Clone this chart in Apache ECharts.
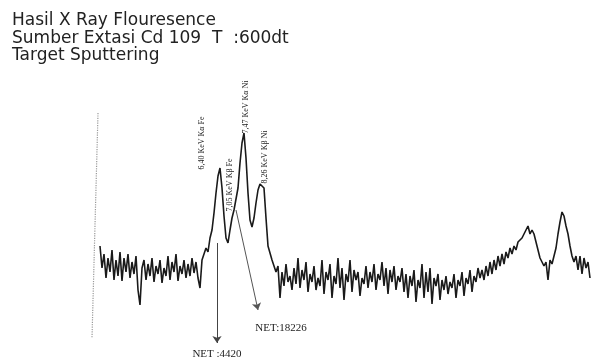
<!DOCTYPE html>
<html>
<head>
<meta charset="utf-8">
<script src="https://cdn.jsdelivr.net/npm/echarts@6/dist/echarts.min.js"></script>
<style>html,body{margin:0;padding:0;background:#fff}#c{width:592px;height:363px}</style>
</head>
<body>
<div id="c"></div>
<script>
// Spectrum: counts per channel (channel spacing 2)
const channelStart = 10;
const channelStep = 2;
const counts = [
  92,70,84,60,80,66,88,58,78,62,
  86,57,80,66,84,60,76,64,82,48,
  33,70,78,58,74,62,80,56,72,64,
  78,55,70,62,82,58,76,66,84,57,
  72,64,78,60,74,62,80,65,76,60,
  50,78,84,90,86,100,
  108,125,145,162,170,150,122,100,95,108,
  120,128,126,150,175,195,205,180,145,118,
  111,120,135,148,154,156,150,120,92,85,
  78,80,66,
  72,40,66,52,74,56,62,48,70,54,
  80,50,68,58,76,46,64,56,72,48,
  60,52,78,44,66,58,74,40,62,54,
  80,50,70,38,64,56,78,46,68,58,
  66,42,60,54,72,50,66,56,74,48,
  64,58,76,52,70,44,68,56,72,48,
  62,56,70,46,64,40,62,52,68,36,
  58,50,74,40,66,46,70,34,60,52,
  64,38,58,48,62,44,56,50,64,40,
  58,52,66,42,60,54,68,46,62,56,
  70,60,
  68,58,72,62,76,64,78,68,82,72,
  84,74,86,80,90,84,92,88,96,94,
  100,104,108,112,104,108,104,96,88,80,
  78,72,76,58,78,74,82,90,104,116,
  126,122,112,104,92,82,76,82,68,82,
  64,80,70,76,60
];
const channels = counts.map((_, i) => channelStart + channelStep * i);

// Peak annotations: [channel, counts, text]
const peakLabels = [
  [112, 195, '6,40 KeV Kα Fe'],
  [140, 153, '7,05 KeV Kβ Fe'],
  [156, 231, '7,47 KeV Kα Ni'],
  [175, 181, '8,26 KeV Kβ Ni']
];
const netLabels = ['NET :4420', 'NET:18226'];

const chart = echarts.init(document.getElementById('c'), null, {renderer: 'canvas'});
const serif = '"Liberation Serif", "DejaVu Serif", serif';

chart.setOption({
  animation: false,
  backgroundColor: '#ffffff',
  title: {
    text: 'Hasil X Ray Flouresence\nSumber Extasi Cd 109  T  :600dt\nTarget Sputtering',
    left: 7, top: 7,
    textStyle: {fontFamily: '"DejaVu Sans", sans-serif', fontSize: 17, fontWeight: 'normal', color: '#222', lineHeight: 17.5}
  },
  grid: {left: 90, right: 2, top: 60, bottom: 0},
  xAxis: {type: 'value', min: 0, max: 500, show: false},
  yAxis: {type: 'value', min: -25, max: 278, show: false},
  series: [{
    type: 'line',
    data: channels.map((c, i) => [c, counts[i]]),
    symbol: 'none',
    lineStyle: {color: '#1a1a1a', width: 1.6},
    markLine: {
      silent: true,
      symbol: ['none', 'none'],
      animation: false,
      data: [
        [{coord: [8, 225], lineStyle: {type: 'dotted', color: '#999', width: 1.2}, label: {show: false}},
         {coord: [2, 0]}],
        [{coord: [127, 95], symbol: 'none', lineStyle: {color: '#444', width: 1, type: 'solid'},
          label: {show: true, position: 'end', formatter: netLabels[0], fontFamily: serif, fontSize: 11, color: '#222', distance: 6}},
         {coord: [127, -5], symbol: 'arrow', symbolSize: 7}],
        [{coord: [146, 128], symbol: 'none', lineStyle: {color: '#555', width: 1, type: 'solid'}, label: {show: false}},
         {coord: [168, 28], symbol: 'arrow', symbolSize: 7}]
      ]
    },
    markPoint: {
      silent: true,
      animation: false,
      symbol: 'circle',
      symbolSize: 1,
      itemStyle: {color: 'rgba(0,0,0,0)'},
      data: peakLabels.map(p => ({
        coord: [p[0], p[1]],
        label: {show: true, position: 'inside', rotate: 90, formatter: p[2], fontFamily: serif, fontSize: 8, color: '#222'}
      })).concat([{
        coord: [191, 10],
        label: {show: true, position: 'inside', formatter: netLabels[1], fontFamily: serif, fontSize: 11, color: '#222'}
      }])
    }
  }]
});
</script>
</body>
</html>
